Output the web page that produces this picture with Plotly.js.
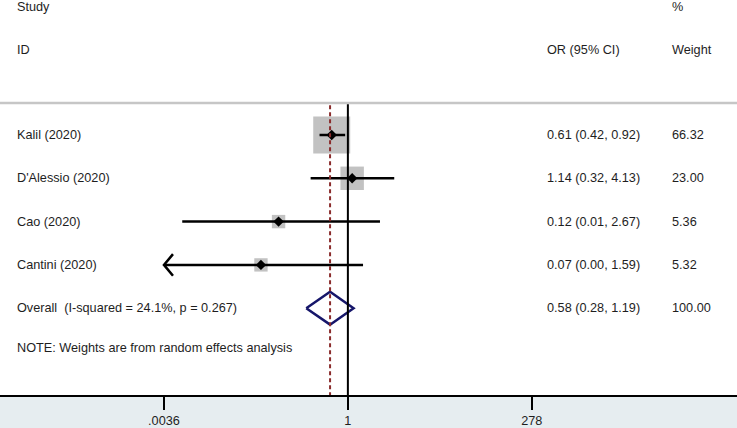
<!DOCTYPE html>
<html>
<head>
<meta charset="utf-8">
<script src="https://cdn.plot.ly/plotly-3.0.1.min.js"></script>
<style>
  html, body { margin: 0; padding: 0; background: #ffffff; }
  #chart { width: 737px; height: 428px; }
</style>
</head>
<body>
<div id="chart"></div>
<script>
// ---- data ----
const studies = ["Kalil (2020)", "D'Alessio (2020)", "Cao (2020)", "Cantini (2020)"];
const oddsRatio = [0.61, 1.14, 0.12, 0.07];
const ciLower = [0.42, 0.32, 0.0063, 0.002];
const ciUpper = [0.92, 4.13, 2.67, 1.59];
const weights = [66.32, 23.00, 5.36, 5.32];
const overallLabel = "Overall\u00a0\u00a0(I-squared = 24.1%, p = 0.267)";
const overallOR = 0.58;
const overallLower = 0.28;
const overallUpper = 1.19;
const overallWeight = 100.00;
const tickValues = [0.0036, 1, 278];
const tickLabels = [".0036", "1", "278"];
const noteText = "NOTE: Weights are from random effects analysis";

// ---- layout helpers ----
const rows = studies.map((_, i) => i + 1);
const overallRow = studies.length + 1;
const noteRow = overallRow + 0.92;
const axisMin = tickValues[0];
const FONT = "Liberation Sans, Arial, sans-serif";
const TXT = "#1e1e1e";
const fs = 12.7;

const traces = [];

// CI lines (clipped at axis min)
const ciX = [], ciY = [];
rows.forEach((r, i) => {
  ciX.push(Math.max(ciLower[i], axisMin), ciUpper[i], null);
  ciY.push(r, r, null);
});

// boxes sized by weight
traces.push({
  type: "scatter", mode: "markers",
  x: oddsRatio, y: rows,
  marker: {
    symbol: "square", color: "#a8a8a8",
    size: weights.map(w => 4 + 33 * Math.sqrt(w / weights[0])),
    line: { width: 0 }
  },
  hoverinfo: "skip"
});

traces.push({
  type: "scatter", mode: "lines",
  x: ciX, y: ciY,
  line: { color: "#000000", width: 2.5 },
  hoverinfo: "skip"
});

// arrows for clipped CIs
rows.forEach((r, i) => {
  if (ciLower[i] < axisMin) {
    const k = Math.pow(10, 0.12);
    traces.push({
      type: "scatter", mode: "lines",
      x: [axisMin * k, axisMin, axisMin * k],
      y: [r - 0.25, r, r + 0.25],
      line: { color: "#000000", width: 2.5 },
      hoverinfo: "skip"
    });
  }
});

// point estimates
traces.push({
  type: "scatter", mode: "markers",
  x: oddsRatio, y: rows,
  marker: { symbol: "diamond", color: "#000000", size: 8 },
  hoverinfo: "skip"
});

// overall diamond
const dh = 0.38;
traces.push({
  type: "scatter", mode: "lines",
  x: [overallLower, overallOR, overallUpper, overallOR, overallLower],
  y: [overallRow, overallRow - dh, overallRow, overallRow + dh, overallRow],
  line: { color: "#16166a", width: 2.5 },
  hoverinfo: "skip"
});

// ---- annotations ----
const ann = [];
function txt(x, y, text, xref) {
  ann.push({
    x: x, y: y, xref: xref || "paper", yref: "y", text: text,
    showarrow: false, xanchor: "left", yanchor: "middle",
    font: { family: FONT, size: fs, color: TXT }
  });
}
const xStudy = 15 / 737, xOR = 545 / 737, xW = 670 / 737;
const headRow1 = 1 + (7 - 135) / 43.3;
const headRow2 = 1 + (50 - 135) / 43.3;
txt(xStudy, headRow1, "Study");
txt(xStudy, headRow2, "ID");
txt(xOR, headRow2, "OR (95% CI)");
txt(xW, headRow1, "%");
txt(xW, headRow2, "Weight");
const f2 = v => v.toFixed(2);
rows.forEach((r, i) => {
  txt(xStudy, r, studies[i]);
  txt(xOR, r, f2(oddsRatio[i]) + " (" + f2(ciLower[i]) + ", " + f2(ciUpper[i]) + ")");
  txt(xW, r, f2(weights[i]));
});
txt(xStudy, overallRow, overallLabel);
txt(xOR, overallRow, f2(overallOR) + " (" + f2(overallLower) + ", " + f2(overallUpper) + ")");
txt(xW, overallRow, f2(overallWeight));
txt(xStudy, noteRow, noteText);

// ---- shapes ----
const lineRow = 1 + (103 - 135) / 43.3;
const yBottom = 1 + 260 / 43.3;
const shapes = [
  { type: "line", xref: "paper", yref: "y", x0: 0, x1: 1, y0: lineRow, y1: lineRow,
    line: { color: "#c6c6c6", width: 2.5 } },
  { type: "line", xref: "x", yref: "y", x0: 1, x1: 1, y0: lineRow + 0.03, y1: yBottom,
    line: { color: "#000000", width: 2 } },
  { type: "line", xref: "x", yref: "y", x0: overallOR, x1: overallOR, y0: lineRow + 0.05, y1: yBottom,
    line: { color: "#8a2b2b", width: 2, dash: "4px,3px" } }
];

const layout = {
  width: 737, height: 428,
  margin: { l: 0, r: 0, t: 0, b: 33, pad: 0 },
  paper_bgcolor: "#e6edf0",
  plot_bgcolor: "#ffffff",
  showlegend: false,
  hovermode: false,
  xaxis: {
    type: "log",
    range: [-4.622, 5.170],
    tickmode: "array",
    tickvals: tickValues,
    ticktext: tickLabels,
    ticks: "outside", ticklen: 13, tickwidth: 2, tickcolor: "#000000",
    showline: true, linecolor: "#000000", linewidth: 2,
    showgrid: false, zeroline: false,
    tickfont: { family: FONT, size: fs, color: TXT },
    fixedrange: true
  },
  yaxis: {
    range: [yBottom, 1 - 135 / 43.3],
    showticklabels: false, showgrid: false, zeroline: false, showline: false,
    ticks: "", fixedrange: true
  },
  annotations: ann,
  shapes: shapes
};

Plotly.newPlot("chart", traces, layout, { staticPlot: true, displayModeBar: false });
</script>
</body>
</html>
